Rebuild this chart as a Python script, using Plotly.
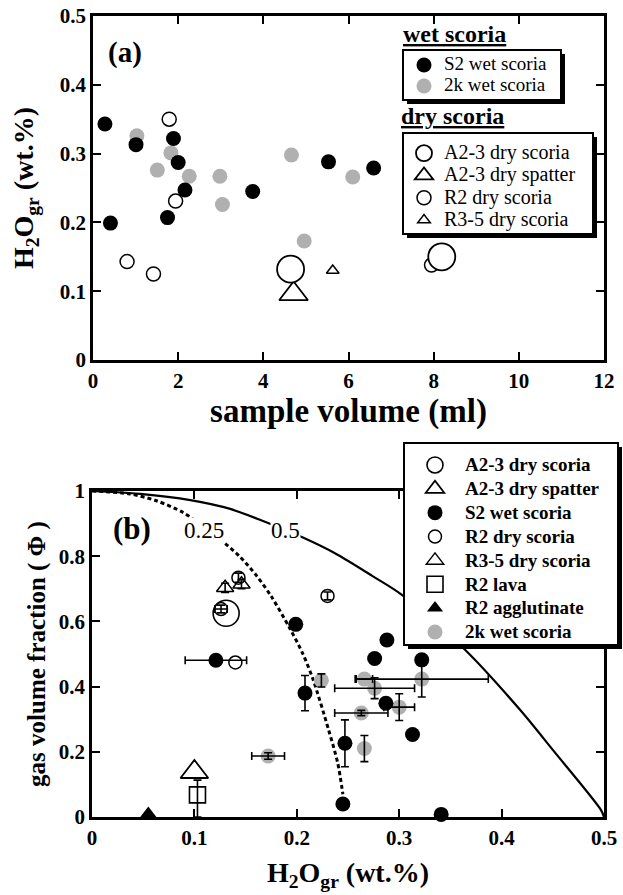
import plotly.graph_objects as go

W, H = 623, 895

# ---------------- panel (a): H2O_gr vs sample volume ----------------
a_s2_vol = [0.28, 0.41, 1.01, 1.89, 2.00, 2.16, 1.75, 3.75, 5.53, 6.59]
a_s2_h2o = [0.343, 0.199, 0.313, 0.322, 0.287, 0.247, 0.207, 0.245, 0.288, 0.279]
a_2k_vol = [1.03, 1.83, 1.51, 2.26, 2.98, 3.04, 4.66, 4.96, 6.10]
a_2k_h2o = [0.326, 0.301, 0.276, 0.267, 0.267, 0.226, 0.298, 0.173, 0.266]
a_r2_vol = [1.79, 1.94, 0.80, 1.42, 7.95]
a_r2_h2o = [0.350, 0.231, 0.143, 0.125, 0.138]
a_a23s_vol = [4.64, 8.19]
a_a23s_h2o = [0.132, 0.150]
a_a23p_vol = [4.71]
a_a23p_h2o = [0.096]
a_r35_vol = [5.63]
a_r35_h2o = [0.130]

# ---------------- panel (b): gas volume fraction vs H2O_gr ----------------
b_s2_h2o = [0.121, 0.199, 0.208, 0.247, 0.245, 0.276, 0.288, 0.322, 0.287, 0.313, 0.341]
b_s2_phi = [0.481, 0.591, 0.380, 0.226, 0.040, 0.486, 0.543, 0.482, 0.349, 0.253, 0.008]
b_s2_xerr = [0.030, 0, 0, 0, 0, 0, 0, 0, 0, 0, 0]
b_s2_yerr = [0, 0, 0.054, 0.072, 0, 0, 0, 0, 0, 0, 0]
b_2k_h2o = [0.172, 0.224, 0.266, 0.276, 0.263, 0.300, 0.322, 0.266]
b_2k_phi = [0.187, 0.419, 0.423, 0.395, 0.319, 0.337, 0.423, 0.210]
b_2k_xerr = [0.016, 0, 0.008, 0.039, 0.026, 0.015, 0.065, 0]
b_2k_yerr = [0.010, 0.020, 0, 0.032, 0.008, 0.041, 0.055, 0.040]
b_r2_h2o = [0.126, 0.143, 0.140, 0.230]
b_r2_phi = [0.638, 0.734, 0.474, 0.678]
b_r2_xerr = [0.006, 0, 0, 0]
b_r2_yerr = [0.012, 0.014, 0, 0.012]
b_r35_h2o = [0.130, 0.146]
b_r35_phi = [0.703, 0.714]
b_r35_xerr = [0, 0]
b_r35_yerr = [0.014, 0.014]
b_a23s_h2o = [0.131]
b_a23s_phi = [0.625]
b_a23p_h2o = [0.100]
b_a23p_phi = [0.138]
b_lava_h2o = [0.103]
b_lava_phi = [0.068]
b_lava_err_up = [0.045]
b_lava_err_dn = [0.068]
b_aggl_h2o = [0.055]
b_aggl_phi = [0.011]

# model curves
curve05_h2o = [0, 0.047, 0.096, 0.135, 0.167, 0.206, 0.239, 0.274, 0.302, 0.364, 0.418, 0.450, 0.497, 0.5]
curve05_phi = [1.0, 0.991, 0.972, 0.945, 0.908, 0.857, 0.806, 0.739, 0.683, 0.514, 0.329, 0.206, 0.022, 0.0]
curve025_h2o = [0, 0.037, 0.063, 0.089, 0.107, 0.125, 0.144, 0.161, 0.175, 0.193, 0.206, 0.216, 0.231, 0.240, 0.245]
curve025_phi = [1.0, 0.991, 0.970, 0.934, 0.895, 0.852, 0.800, 0.739, 0.677, 0.580, 0.500, 0.421, 0.268, 0.165, 0.070]

SERIF = "Liberation Serif"
GRAY = "#b0b0b0"
BLACK = "black"

fig = go.Figure()


def px_x(p):
    return p / W


def px_y(p):
    return 1 - p / H


def lab(text, size, bold=False):
    inner = f"<b>{text}</b>" if bold else text
    return f"<span style='font-size:{size}px'>{inner}</span>"


def add_points(xs, ys, marker, name, legend, xa, ya, rank, showlegend=True,
               xerr=None, yerr=None, yerr_minus=None):
    fig.add_trace(go.Scatter(
        x=xs, y=ys, mode="markers", name=name, marker=marker,
        xaxis=xa, yaxis=ya, legend=legend, legendrank=rank,
        showlegend=showlegend, cliponaxis=False, hoverinfo="skip"))
    eb = dict(type="data", color=BLACK, thickness=1.6, width=4)
    if xerr is not None:
        idx = [i for i, e in enumerate(xerr) if e > 0]
        if idx:
            fig.add_trace(go.Scatter(
                x=[xs[i] for i in idx], y=[ys[i] for i in idx], mode="markers",
                marker=dict(size=1, color="rgba(0,0,0,0)"),
                error_x=dict(array=[xerr[i] for i in idx], **eb),
                xaxis=xa, yaxis=ya, showlegend=False, cliponaxis=False, hoverinfo="skip"))
    if yerr is not None:
        idx = [i for i, e in enumerate(yerr) if e > 0]
        if idx:
            ey = dict(array=[yerr[i] for i in idx], **eb)
            if yerr_minus is not None:
                ey["symmetric"] = False
                ey["arrayminus"] = [yerr_minus[i] for i in idx]
            fig.add_trace(go.Scatter(
                x=[xs[i] for i in idx], y=[ys[i] for i in idx], mode="markers",
                marker=dict(size=1, color="rgba(0,0,0,0)"),
                error_y=ey,
                xaxis=xa, yaxis=ya, showlegend=False, cliponaxis=False, hoverinfo="skip"))


# ---------- panel (a) ----------
LA = 20  # legend text size in panel (a)
LW = 19  # legend text size for the wet-scoria box
add_points(a_2k_vol, a_2k_h2o, dict(size=15, color=GRAY), lab("2k wet scoria", LW), "legend", "x", "y", 2)
add_points(a_s2_vol, a_s2_h2o, dict(size=15, color=BLACK), lab("S2 wet scoria", LW), "legend", "x", "y", 1)
add_points(a_r2_vol, a_r2_h2o, dict(size=14, color="white", line=dict(color=BLACK, width=1.5)),
           lab("R2 dry scoria", LA), "legend2", "x", "y", 3)
add_points(a_r35_vol, a_r35_h2o, dict(size=11, symbol="triangle-up", color="white",
                                      line=dict(color=BLACK, width=1.5)),
           lab("R3-5 dry scoria", LA), "legend2", "x", "y", 4)
add_points(a_a23p_vol, a_a23p_h2o, dict(size=25, symbol="triangle-up", color="white",
                                        line=dict(color=BLACK, width=1.8)),
           lab("A2-3 dry spatter", LA), "legend2", "x", "y", 2)
add_points(a_a23s_vol, a_a23s_h2o, dict(size=27, color="white", line=dict(color=BLACK, width=1.8)),
           lab("A2-3 dry scoria", LA), "legend2", "x", "y", 1)

# ---------- panel (b) ----------
fig.add_trace(go.Scatter(x=curve05_h2o, y=curve05_phi, mode="lines",
                         line=dict(color=BLACK, width=2.2, shape="spline", smoothing=0.8),
                         xaxis="x2", yaxis="y2", showlegend=False, hoverinfo="skip"))
fig.add_trace(go.Scatter(x=curve025_h2o, y=curve025_phi, mode="lines",
                         line=dict(color=BLACK, width=3, dash="4px,3px", shape="spline", smoothing=0.8),
                         xaxis="x2", yaxis="y2", showlegend=False, hoverinfo="skip"))

LB = 19  # legend text size in panel (b)
add_points(b_2k_h2o, b_2k_phi, dict(size=15, color=GRAY), lab("2k wet scoria", LB, True),
           "legend3", "x2", "y2", 8, xerr=b_2k_xerr, yerr=b_2k_yerr)
add_points(b_a23s_h2o, b_a23s_phi, dict(size=26, symbol="circle-open", color=BLACK, line=dict(width=1.6)),
           lab("A2-3 dry scoria", LB, True), "legend3", "x2", "y2", 1)
add_points(b_a23p_h2o, b_a23p_phi, dict(size=24, symbol="triangle-up-open", color=BLACK, line=dict(width=1.8)),
           lab("A2-3 dry spatter", LB, True), "legend3", "x2", "y2", 2)
add_points(b_r2_h2o, b_r2_phi, dict(size=13, symbol="circle-open", color=BLACK, line=dict(width=1.5)),
           lab("R2 dry scoria", LB, True), "legend3", "x2", "y2", 4, xerr=b_r2_xerr, yerr=b_r2_yerr)
add_points(b_r35_h2o, b_r35_phi, dict(size=15, symbol="triangle-up-open", color=BLACK, line=dict(width=1.5)),
           lab("R3-5 dry scoria", LB, True), "legend3", "x2", "y2", 5, xerr=b_r35_xerr, yerr=b_r35_yerr)
add_points(b_lava_h2o, b_lava_phi, dict(size=16, symbol="square-open", color=BLACK, line=dict(width=1.6)),
           lab("R2 lava", LB, True), "legend3", "x2", "y2", 6, yerr=b_lava_err_up, yerr_minus=b_lava_err_dn)
add_points(b_aggl_h2o, b_aggl_phi, dict(size=14, symbol="triangle-up", color=BLACK),
           lab("R2 agglutinate", LB, True), "legend3", "x2", "y2", 7)
add_points(b_s2_h2o, b_s2_phi, dict(size=15, color=BLACK), lab("S2 wet scoria", LB, True),
           "legend3", "x2", "y2", 3, xerr=b_s2_xerr, yerr=b_s2_yerr)

# ---------- axes ----------
axis_common = dict(showgrid=False, zeroline=False, showline=True, linecolor=BLACK, linewidth=2.8,
                   mirror="ticks", ticks="inside", ticklen=8, tickwidth=2.4, tickcolor=BLACK,
                   tickfont=dict(family=SERIF, size=21, color=BLACK, weight="bold"))
title_font = dict(family=SERIF, size=28, color=BLACK, weight="bold")

fig.update_layout(
    width=W, height=H,
    margin=dict(l=0, r=0, t=0, b=0, autoexpand=False),
    paper_bgcolor="white", plot_bgcolor="white",
    xaxis=dict(domain=[px_x(93), px_x(604)], anchor="y", range=[0, 12], dtick=2,
               title=dict(text="sample volume (ml)",
                          font=dict(family=SERIF, size=33, color=BLACK, weight="bold"), standoff=5),
               **axis_common),
    yaxis=dict(domain=[px_y(360), px_y(16)], anchor="x", range=[0, 0.5], dtick=0.1,
               title=dict(text="H<sub>2</sub>O<sub>gr</sub> (wt.%)", font=title_font, standoff=18),
               **axis_common),
    xaxis2=dict(domain=[px_x(92), px_x(604)], anchor="y2", range=[0, 0.5], dtick=0.1,
                title=dict(text="H<sub>2</sub>O<sub>gr</sub> (wt.%)", font=title_font, standoff=14),
                **axis_common),
    yaxis2=dict(domain=[px_y(817), px_y(491)], anchor="x2", range=[0, 1], dtick=0.2,
                title=dict(text="gas volume fraction ( Φ )",
                           font=dict(family=SERIF, size=25, color=BLACK, weight="bold"), standoff=6),
                **axis_common),
    # legend font sizes set the row pitch; the label spans set the visible text size
    legend=dict(x=px_x(404), y=px_y(49.5), xanchor="left", yanchor="top",
                bgcolor="rgba(0,0,0,0)", borderwidth=0, itemwidth=30, tracegroupgap=0,
                font=dict(family=SERIF, size=13.85, color=BLACK)),
    legend2=dict(x=px_x(404), y=px_y(137), xanchor="left", yanchor="top",
                 bgcolor="rgba(0,0,0,0)", borderwidth=0, itemwidth=30, tracegroupgap=0,
                 font=dict(family=SERIF, size=14.85, color=BLACK)),
    legend3=dict(x=px_x(405), y=px_y(448), xanchor="left", yanchor="top",
                 bgcolor="rgba(0,0,0,0)", borderwidth=0, itemwidth=50, tracegroupgap=0,
                 font=dict(family=SERIF, size=16.05, color=BLACK, weight="bold")),
    showlegend=True,
)

# legend boxes with drop shadow
boxes = [(403, 50, 561, 100), (403, 133, 593, 234), (404, 443, 618, 645)]
shapes = []
for (x0, y0, x1, y1) in boxes:
    shapes.append(dict(type="rect", xref="paper", yref="paper", layer="above",
                       x0=px_x(x0 + 4), x1=px_x(x1 + 4), y0=px_y(y0 + 4), y1=px_y(y1 + 4),
                       fillcolor=BLACK, line=dict(width=0)))
    shapes.append(dict(type="rect", xref="paper", yref="paper", layer="above",
                       x0=px_x(x0), x1=px_x(x1), y0=px_y(y0), y1=px_y(y1),
                       fillcolor="white", line=dict(color=BLACK, width=2)))
fig.update_layout(shapes=shapes)

ann = [
    dict(text="(a)", x=px_x(125), y=px_y(52), xanchor="center", yanchor="middle",
         font=dict(family=SERIF, size=29, color=BLACK, weight="bold")),
    dict(text="(b)", x=px_x(132), y=px_y(528), xanchor="center", yanchor="middle",
         font=dict(family=SERIF, size=31, color=BLACK, weight="bold")),
    dict(text="<u>wet scoria</u>", x=px_x(401), y=px_y(34), xanchor="left", yanchor="middle",
         font=dict(family=SERIF, size=24, color=BLACK, weight="bold")),
    dict(text="<u>dry scoria</u>", x=px_x(399), y=px_y(116), xanchor="left", yanchor="middle",
         font=dict(family=SERIF, size=24, color=BLACK, weight="bold")),
    dict(text="0.25", x=px_x(204), y=px_y(530), xanchor="center", yanchor="middle",
         bgcolor="white", borderpad=0, font=dict(family=SERIF, size=23, color=BLACK)),
    dict(text="0.5", x=px_x(285), y=px_y(530), xanchor="center", yanchor="middle",
         bgcolor="white", borderpad=0, font=dict(family=SERIF, size=23, color=BLACK)),
]
for a in ann:
    a.update(xref="paper", yref="paper", showarrow=False)
fig.update_layout(annotations=ann)

fig.write_html("out.html", config={"displayModeBar": False},
               post_script="document.body.style.margin='0px';document.body.style.overflow='hidden';")
